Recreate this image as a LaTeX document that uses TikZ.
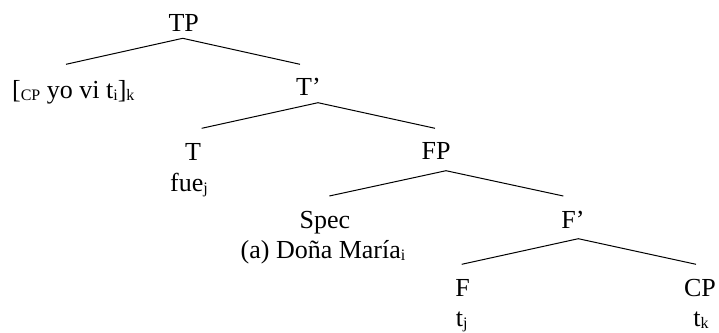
\documentclass[tikz,border=0pt]{standalone}
\usepackage{fontspec}
\setmainfont{Liberation Serif}
\usetikzlibrary{calc}
\usetikzlibrary{positioning}

\newcommand{\trsub}[1]{\raisebox{-0.08em}{\fontsize{16}{16}\selectfont #1}}

\begin{document}
\begin{tikzpicture}[x=1pt, y=-1pt,
    every node/.style={anchor=base, inner sep=0pt,
      font=\fontsize{26}{30}\selectfont},
    branch/.style={line width=1pt}]

  \useasboundingbox (0, 0) rectangle (719, 332);

  % labels
  \node (tp) at (183.7, 31) {TP};
  \node (cpk) at (73.3, 98.5) {[\trsub{CP} yo vi t\trsub{i}]\trsub{k}};
  \node (tbar) at (308.5, 95) {T’};
  \node (t) at (193, 160) {T};
  \node (fue) at (189, 191) {fue\trsub{j}};
  \node (fp) at (436, 159) {FP};
  \node (spec) at (325, 228) {Spec};
  \node (dona) at (323, 258) {(a) Doña María\trsub{i}};
  \node (fbar) at (573, 228) {F’};
  \node (f) at (462.5, 296.7) {F};
  \node (cp) at (700, 296.7) {CP};
  \node (tj) at (461.7, 326) {t\trsub{j}};
  \node (tk) at (701, 326) {t\trsub{k}};

  % branches
  \draw [branch] ($(cpk.base) + (-7.3, -34.2)$)
  -- ($(tp.base) + (-1, 7.3)$) -- ($(tbar.base) + (-8.5, -30.7)$);
  \draw [branch] ($(t.base) + (8.7, -31.7)$)
  -- ($(tbar.base) + (9.5, 7.7)$) -- ($(fp.base) + (-1, -30.7)$);
  \draw [branch] ($(spec.base) + (4.3, -32)$)
  -- ($(fp.base) + (10, 11.7)$) -- ($(fbar.base) + (-9.7, -32)$);
  \draw [branch] ($(f.base) + (-0.8, -32.4)$)
  -- ($(fbar.base) + (5.3, 10.7)$) -- ($(cp.base) + (-4, -32.4)$);

\end{tikzpicture}
\end{document}
